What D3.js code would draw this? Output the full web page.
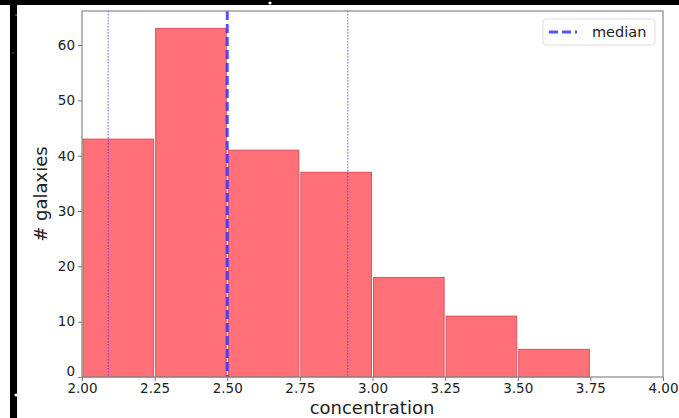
<!DOCTYPE html>
<html>
<head>
<meta charset="utf-8">
<script src="https://cdn.jsdelivr.net/npm/d3@7"></script>
<style>
  html, body { margin: 0; padding: 0; background: #fff; }
  svg { display: block; font-family: "DejaVu Sans", sans-serif; }
</style>
</head>
<body>
<svg id="chart" width="679" height="418"></svg>
<script>
// Histogram of galaxy concentration
const binEdges = [2.00, 2.25, 2.50, 2.75, 3.00, 3.25, 3.50, 3.75];
const counts = [43, 63, 41, 37, 18, 11, 5];
const medianValue = 2.50;
const spreadLines = [2.09, 2.915];
const xTicks = [2.00, 2.25, 2.50, 2.75, 3.00, 3.25, 3.50, 3.75, 4.00];
const yTicks = [0, 10, 20, 30, 40, 50, 60];

const svg = d3.select("#chart");
const W = 679, H = 418;
const m = { left: 82, right: 663, top: 11, bottom: 377 };

// frame strips around the figure
svg.append("rect").attr("x", 0).attr("y", 0).attr("width", W).attr("height", H).attr("fill", "#fff");
svg.append("rect").attr("x", 0).attr("y", 0).attr("width", W).attr("height", 5).attr("fill", "#000");
svg.append("rect").attr("x", 10).attr("y", 0).attr("width", 7).attr("height", H).attr("fill", "#000");
svg.append("circle").attr("cx", 16).attr("cy", 15).attr("r", 1).attr("fill", "#7a3a4a");
svg.append("circle").attr("cx", 13).attr("cy", 53).attr("r", 1).attr("fill", "#3a3a55");
svg.append("circle").attr("cx", 16).attr("cy", 395).attr("r", 1.6).attr("fill", "#fff");
svg.append("circle").attr("cx", 270).attr("cy", 3).attr("r", 1.6).attr("fill", "#fff");

const x = d3.scaleLinear().domain([2.0, 4.0]).range([m.left, m.right]);
const y = d3.scaleLinear().domain([0, d3.max(counts) * 1.05]).range([m.bottom, m.top]);

// bars
const bars = counts.map((c, i) => ({ x0: binEdges[i], x1: binEdges[i + 1], c }));
svg.append("g").selectAll("rect").data(bars).join("rect")
  .attr("x", d => x(d.x0) + 1)
  .attr("width", d => x(d.x1) - x(d.x0) - 2)
  .attr("y", d => y(d.c))
  .attr("height", d => y(0) - y(d.c))
  .attr("fill", "#ff7079")
  .attr("stroke", "#d9545d")
  .attr("stroke-width", 1);

// dotted reference lines
svg.append("g").selectAll("line").data(spreadLines).join("line")
  .attr("x1", d => x(d)).attr("x2", d => x(d))
  .attr("y1", m.top).attr("y2", m.bottom)
  .attr("stroke", "rgba(40,40,255,0.75)")
  .attr("stroke-width", 1)
  .attr("stroke-dasharray", "1.5,1.5");

// median line
svg.append("line")
  .attr("x1", x(medianValue)).attr("x2", x(medianValue))
  .attr("y1", m.top).attr("y2", m.bottom)
  .attr("stroke", "rgba(40,40,255,0.8)")
  .attr("stroke-width", 3)
  .attr("stroke-dasharray", "9,4");

// axes
const xAxis = d3.axisBottom(x).tickValues(xTicks).tickFormat(d3.format(".2f")).tickSize(4).tickPadding(2);
const yAxis = d3.axisLeft(y).tickValues(yTicks).tickSize(4).tickPadding(3);

const gx = svg.append("g").attr("transform", `translate(0,${m.bottom})`).call(xAxis);
const gy = svg.append("g").attr("transform", `translate(${m.left},0)`).call(yAxis);
[gx, gy].forEach(g => {
  g.select(".domain").remove();
  g.selectAll(".tick line").attr("stroke", "#777");
  g.selectAll(".tick text").attr("fill", "#222").style("font-size", "13.5px")
    .style("font-family", "'DejaVu Sans', sans-serif");
});
// lift the zero label clear of the first x label
gy.selectAll(".tick").filter(d => d === 0).select("text").attr("dy", "-0.08em");

// spines
svg.append("rect")
  .attr("x", m.left).attr("y", m.top)
  .attr("width", m.right - m.left).attr("height", m.bottom - m.top)
  .attr("fill", "none").attr("stroke", "#888").attr("stroke-width", 1.2);

// axis labels
svg.append("text")
  .attr("x", 372).attr("y", 414)
  .attr("text-anchor", "middle").attr("fill", "#222")
  .style("font-size", "18px").text("concentration");
svg.append("text")
  .attr("transform", `translate(47,${(m.top + m.bottom) / 2}) rotate(-90)`)
  .attr("text-anchor", "middle").attr("fill", "#222")
  .style("font-size", "18px").text("# galaxies");

// legend
const lg = svg.append("g");
lg.append("rect").attr("x", 543).attr("y", 19).attr("width", 112).attr("height", 26)
  .attr("rx", 3).attr("fill", "rgba(255,255,255,0.8)").attr("stroke", "#ddd");
lg.append("line").attr("x1", 549).attr("x2", 577).attr("y1", 32).attr("y2", 32)
  .attr("stroke", "rgba(40,40,255,0.8)").attr("stroke-width", 3).attr("stroke-dasharray", "9,4");
lg.append("text").attr("x", 592).attr("y", 37).attr("fill", "#222")
  .style("font-size", "14.5px").text("median");
</script>
</body>
</html>
